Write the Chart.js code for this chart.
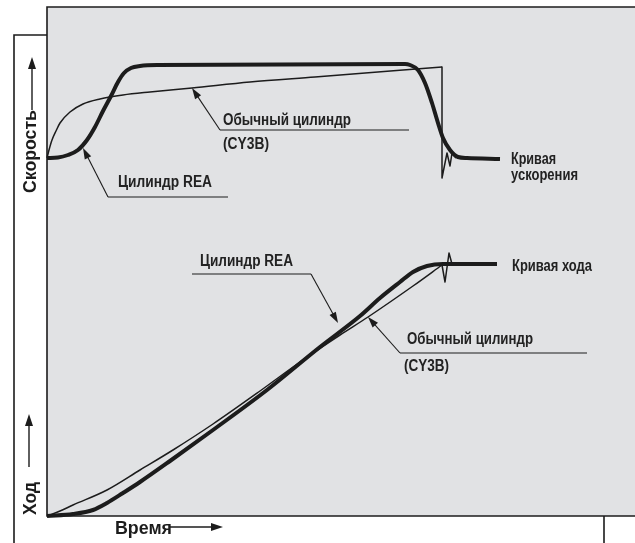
<!DOCTYPE html>
<html><head><meta charset="utf-8">
<script src="https://cdn.jsdelivr.net/npm/chart.js@4/dist/chart.umd.min.js"></script>
<style>html,body{margin:0;padding:0;background:#fff}canvas{display:block}</style>
</head><body>
<canvas id="c" width="635" height="543"></canvas>
<script>
// ---- Data (time units / value units) ----
// Speed curves (upper)
const timeSpeedREA  = [0,11,21,31,40,48,56,64,71,77,84,93,110,358,363,371,378,385,391,396,403,411,420,453];
const speedREA      = [358,358.5,361,366,376,389,405,420,434,443,448,450,451,452,451,446,433,413,393,378,366,359,358,357];
const timeSpeedConv = [0,2,5,9,13,23,36,53,76,103,145,203,268,395];
const speedConv     = [358,366,376,385,393,404,412,417,421,424,428,434,439,449];
const timeSpeedConvStop = [395,395,400,403,405,409];
const speedConvStop     = [449,338,363,350,363,358];
// Stroke curves (lower)
const timeStrokeREA  = [0,26,46,60,76,93,123,166,220,273,313,333,353,366,380,396,450];
const strokeREA      = [0,2,6,13,23,34,55,86,126,169,200,218,234,244,250,252,252];
const timeStrokeConv = [0,13,26,60,93,126,166,213,253,293,321,366,395];
const strokeConv     = [0,5,11,26,46,66,92,125,154,181,199,230,251];
const timeStrokeConvStop = [395,398,402,405,418];
const strokeConvStop     = [251,234,263,252,252];

// ---- Annotation layout (in data units) ----
const labels = [
  {t:'Обычный цилиндр', x:176, y:391, w:128},
  {t:'(CY3B)',          x:176, y:367, w:46},
  {t:'Цилиндр REA',     x:71,  y:329, w:94},
  {t:'Кривая',          x:464, y:352, w:45},
  {t:'ускорения',       x:464, y:336, w:67},
  {t:'Кривая хода',     x:465, y:245, w:80},
  {t:'Цилиндр REA',     x:153, y:250, w:93},
  {t:'Обычный цилиндр', x:360, y:172, w:126},
  {t:'(CY3B)',          x:357, y:145, w:45}
];
const underlines = [
  {x1:173, x2:362, y:386},
  {x1:61,  x2:181, y:319},
  {x1:145, x2:264, y:242},
  {x1:353, x2:540, y:163}
];
const leaders = [
  {x1:173, y1:386, x2:145, y2:428},
  {x1:61,  y1:319, x2:36,  y2:368},
  {x1:264, y1:242, x2:291, y2:193},
  {x1:353, y1:163, x2:321, y2:199}
];

const INK = '#1c1c1c';
const FONT = '"Liberation Sans", Arial, sans-serif';

function pts(xs, ys){ return xs.map((x,i)=>({x:x, y:ys[i]})); }
function ds(xs, ys, w, smooth){
  return {data:pts(xs,ys), borderColor:INK, borderWidth:w, pointRadius:0, fill:false,
    cubicInterpolationMode: smooth ? 'monotone' : 'default', tension:0,
    borderJoinStyle:'round', borderCapStyle:'butt', clip:false};
}

function arrowHead(ctx, x1, y1, x2, y2, len, half){
  const a = Math.atan2(y2-y1, x2-x1);
  ctx.save();
  ctx.translate(x2,y2); ctx.rotate(a);
  ctx.beginPath(); ctx.moveTo(0,0); ctx.lineTo(-len,-half); ctx.lineTo(-len,half); ctx.closePath();
  ctx.fill();
  ctx.restore();
}
function arrow(ctx, x1, y1, x2, y2, lw, len, half){
  const a = Math.atan2(y2-y1, x2-x1);
  ctx.lineWidth = lw;
  ctx.beginPath(); ctx.moveTo(x1,y1); ctx.lineTo(x2 - Math.cos(a)*len*0.8, y2 - Math.sin(a)*len*0.8); ctx.stroke();
  arrowHead(ctx, x1,y1,x2,y2,len,half);
}
function text(ctx, t, x, y, size, w, rot){
  ctx.save();
  ctx.translate(x,y);
  if (rot) ctx.rotate(rot);
  ctx.font = 'bold ' + size + 'px ' + FONT;
  ctx.textAlign = 'left'; ctx.textBaseline = 'alphabetic';
  const nat = ctx.measureText(t).width;
  ctx.scale(w/nat, 1);
  ctx.fillText(t, 0, 0);
  ctx.restore();
}

const framePlugin = {
  id:'frame',
  beforeDatasetsDraw(chart){
    const {ctx, chartArea:a} = chart;
    ctx.save();
    ctx.fillStyle = '#e1e2e4';
    ctx.fillRect(a.left, a.top, a.right-a.left, a.bottom-a.top);
    ctx.restore();
  },
  afterDatasetsDraw(chart){
    const {ctx, chartArea:a, scales:{x, y}} = chart;
    ctx.save();
    ctx.strokeStyle = INK; ctx.fillStyle = INK;
    // frame
    ctx.lineWidth = 1.6;
    ctx.beginPath();
    ctx.moveTo(a.right, a.top); ctx.lineTo(a.left, a.top); ctx.lineTo(a.left, a.bottom); ctx.lineTo(a.right, a.bottom);
    ctx.stroke();
    // outer box pieces
    ctx.beginPath();
    ctx.moveTo(a.left, 35); ctx.lineTo(14, 35); ctx.lineTo(14, 543);
    ctx.moveTo(604, a.bottom); ctx.lineTo(604, 543);
    ctx.stroke();
    // underlines
    ctx.lineWidth = 1.1;
    underlines.forEach(u=>{
      ctx.beginPath();
      ctx.moveTo(x.getPixelForValue(u.x1), y.getPixelForValue(u.y));
      ctx.lineTo(x.getPixelForValue(u.x2), y.getPixelForValue(u.y));
      ctx.stroke();
    });
    // leaders with arrows
    leaders.forEach(l=>{
      arrow(ctx, x.getPixelForValue(l.x1), y.getPixelForValue(l.y1),
                 x.getPixelForValue(l.x2), y.getPixelForValue(l.y2), 1.1, 11, 3.6);
    });
    // labels
    ctx.fillStyle = '#222';
    labels.forEach(l=>{
      text(ctx, l.t, x.getPixelForValue(l.x), y.getPixelForValue(l.y), 16, l.w, 0);
    });
    // axis titles
    ctx.fillStyle = INK;
    text(ctx, 'Скорость', 36, 193, 18, 83, -Math.PI/2);
    text(ctx, 'Ход', 36, 515, 18, 33, -Math.PI/2);
    text(ctx, 'Время', 115, 534, 18, 57, 0);
    ctx.strokeStyle = INK;
    arrow(ctx, 32, 110, 32, 57, 1.4, 12, 4);
    arrow(ctx, 29, 467, 29, 414, 1.4, 12, 4);
    arrow(ctx, 170, 527, 223, 527, 1.4, 12, 4);
    ctx.restore();
  }
};

new Chart(document.getElementById('c'), {
  type:'line',
  data:{datasets:[
    ds(timeSpeedConv, speedConv, 1.5, true),
    ds(timeSpeedConvStop, speedConvStop, 1.5, false),
    ds(timeSpeedREA, speedREA, 4, true),
    ds(timeStrokeConv, strokeConv, 1.5, true),
    ds(timeStrokeConvStop, strokeConvStop, 1.5, false),
    ds(timeStrokeREA, strokeREA, 4, true)
  ]},
  options:{
    responsive:false, animation:false, devicePixelRatio:1,
    layout:{padding:{left:47, top:7, right:0, bottom:27}},
    plugins:{legend:{display:false}, tooltip:{enabled:false}},
    scales:{
      x:{type:'linear', min:0, max:588, display:false},
      y:{type:'linear', min:0, max:509, display:false}
    }
  },
  plugins:[framePlugin]
});
</script>
</body></html>
